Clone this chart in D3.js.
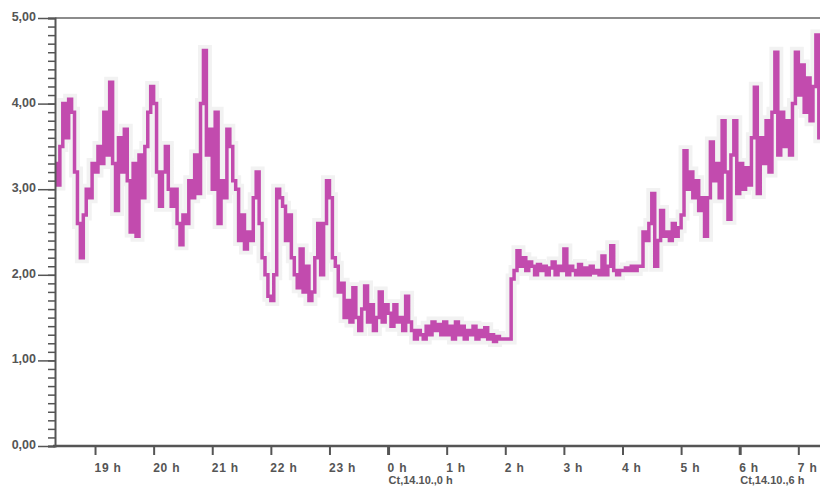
<!DOCTYPE html>
<html>
  <head>
    <title>Průběh měření</title>
    <script src="https://d3js.org/d3.v7.min.js"></script>
    <style>
      body { margin: 0; background: #fff; }
      svg text { font-family: "Liberation Sans", Arial, sans-serif; font-weight: bold; fill: #555; }
    </style>
  </head>
  <body>
    <div id="chart"></div>
    <script>
      // sampling of the logger: first sample at 18:18, then every 3 minutes (hours)
      var startHour = 18.3;
      var stepHours = 0.05;

      var values = [
        3.3, 3.05, 3.5, 4.0, 3.6, 4.05, 3.9, 3.2, 2.6, 2.2, 2.7, 3.0, 2.9, 3.3,
        3.2, 3.5, 3.3, 3.9, 3.4, 4.25, 3.3, 2.75, 3.6, 3.2, 3.7, 3.1, 2.5, 3.3, 2.45, 3.4, 2.9, 3.5, 3.9, 4.2,
        4.0, 3.2, 2.8, 3.2, 3.5, 3.0, 2.8, 3.0, 2.6, 2.35, 2.7, 2.6, 3.1, 2.9, 3.4, 2.95, 4.0, 4.62, 3.4, 3.7,
        3.0, 3.9, 2.6, 3.1, 2.9, 3.7, 3.5, 3.1, 3.0, 2.4, 2.7, 2.3, 2.5, 2.4, 2.9, 3.2, 2.6, 2.2, 2.0, 1.75,
        1.7, 2.0, 3.0, 2.9, 2.8, 2.4, 2.7, 2.2, 2.0, 1.85, 2.3, 1.8, 2.1, 1.7, 1.8, 2.2, 2.6, 2.0, 2.6, 3.1,
        2.9, 2.2, 2.1, 1.8, 1.9, 1.5, 1.7, 1.45, 1.85, 1.5, 1.35, 1.6, 1.87, 1.45, 1.65, 1.35, 1.5, 1.8, 1.45, 1.65,
        1.55, 1.4, 1.65, 1.45, 1.5, 1.35, 1.75, 1.45, 1.35, 1.25, 1.35, 1.3, 1.25, 1.4, 1.3, 1.45, 1.35, 1.42, 1.3, 1.45,
        1.3, 1.4, 1.25, 1.45, 1.3, 1.4, 1.25, 1.35, 1.3, 1.4, 1.25, 1.35, 1.28, 1.38, 1.25, 1.3, 1.22, 1.28, 1.25, 1.25,
        1.25, 1.25, 1.95, 2.05, 2.28, 2.1, 2.2, 2.05, 2.15, 2.1, 2.0, 2.12, 2.05, 2.1, 2.0, 2.08, 2.15, 2.0, 2.1, 2.05,
        2.3, 2.0, 2.1, 2.05, 2.0, 2.12, 2.0, 2.08, 2.0, 2.1, 2.02, 2.05, 2.0, 2.22, 2.0, 2.1, 2.34, 2.05, 2.0, 2.05,
        2.05, 2.08, 2.05, 2.1, 2.05, 2.1, 2.1, 2.5, 2.4, 2.6, 2.95, 2.1, 2.4, 2.75, 2.45, 2.5, 2.4, 2.6, 2.45, 2.55,
        2.7, 3.45, 3.0, 3.2, 2.9, 3.1, 2.75, 2.9, 2.45, 2.9, 3.55, 3.1, 3.3, 2.9, 3.8, 3.2, 2.65, 3.4, 3.8, 2.95,
        3.3, 3.0, 3.25, 3.05, 3.6, 4.19, 2.95, 3.6, 3.3, 3.8, 3.2, 3.9, 4.6, 3.4, 3.9, 3.5, 3.8, 3.4, 4.0, 4.6,
        4.1, 4.45, 3.9, 4.3, 3.8, 4.2, 4.8, 3.6, 4.0
      ];

      // axis ticks
      var yMajor = [0, 1, 2, 3, 4, 5];
      var hourTicks = [19, 20, 21, 22, 23, 24, 25, 26, 27, 28, 29, 30, 31];
      var dayLabels = { 24: "Ct,14.10.,0 h", 30: "Ct,14.10.,6 h" };

      var data = values.map(function(v, i) {
        return { h: startHour + i * stepHours, v: v };
      });

      var width = 820, height = 491;
      var plotLeft = 55, plotTop = 18, plotBottom = 446;

      var svg = d3.select("#chart")
        .append("svg")
        .attr("width", width)
        .attr("height", height);

      var xScale = d3.scaleLinear()
        .domain([18.317, 31.37])
        .range([plotLeft, width]);

      var yScale = d3.scaleLinear()
        .domain([0, 5])
        .range([plotBottom, plotTop]);

      svg.append("clipPath")
        .attr("id", "plot")
        .append("rect")
        .attr("x", plotLeft + 1)
        .attr("y", plotTop)
        .attr("width", width - plotLeft)
        .attr("height", plotBottom - plotTop);

      var line = d3.line()
        .curve(d3.curveStepAfter)
        .x(function(d) { return xScale(d.h); })
        .y(function(d) { return yScale(d.v); });

      // faint grey halo round the trace
      svg.append("path")
        .datum(data)
        .attr("clip-path", "url(#plot)")
        .attr("d", line)
        .attr("fill", "none")
        .attr("stroke", "#f2f2f2")
        .attr("stroke-width", 11);

      svg.append("path")
        .datum(data)
        .attr("clip-path", "url(#plot)")
        .attr("d", line)
        .attr("fill", "none")
        .attr("stroke", "#c24bae")
        .attr("stroke-width", 3.5);

      // top border
      svg.append("line")
        .attr("x1", plotLeft).attr("x2", width)
        .attr("y1", plotTop).attr("y2", plotTop)
        .attr("stroke", "#666")
        .attr("stroke-width", 1.5);

      // y axis, minor ticks every 0.1
      svg.append("g")
        .attr("transform", "translate(" + plotLeft + ",0)")
        .call(d3.axisLeft(yScale).tickValues(d3.range(0, 5.001, 0.1)).tickSize(7).tickFormat(""))
        .call(function(g) {
          g.select(".domain").attr("stroke", "#555").attr("stroke-width", 2);
          g.selectAll(".tick line").attr("stroke", "#555").attr("stroke-width", 1.5);
        });

      // y axis, labelled ticks
      svg.append("g")
        .attr("transform", "translate(" + plotLeft + ",0)")
        .call(d3.axisLeft(yScale).tickValues(yMajor).tickSize(17).tickPadding(2)
          .tickFormat(function(d) { return d3.format(".2f")(d).replace(".", ","); }))
        .call(function(g) {
          g.select(".domain").remove();
          g.selectAll(".tick line").attr("stroke", "#555").attr("stroke-width", 1.5);
          g.selectAll(".tick text").attr("font-size", 12.5).attr("dy", "0.2em");
        });

      // x axis
      var xAxis = svg.append("g")
        .attr("transform", "translate(0," + plotBottom + ")")
        .call(d3.axisBottom(xScale).tickValues(hourTicks).tickSize(9).tickPadding(8)
          .tickFormat(function(d) { return (d % 24) + " h"; }))
        .call(function(g) {
          g.select(".domain").attr("stroke", "#555").attr("stroke-width", 2.5).attr("d", "M" + (plotLeft - 2) + ",0H" + width);
          g.selectAll(".tick line").attr("stroke", "#555").attr("stroke-width", function(d) { return dayLabels[d] ? 3 : 2; });
          g.selectAll(".tick text").attr("font-size", 12).attr("letter-spacing", 0.8)
            .attr("text-anchor", "start").attr("x", -1);
        });

      xAxis.selectAll(".tick")
        .filter(function(d) { return dayLabels[d]; })
        .append("text")
        .attr("x", 0)
        .attr("y", 38)
        .attr("font-size", 11)
        .attr("text-anchor", "start")
        .text(function(d) { return dayLabels[d]; });
    </script>
  </body>
</html>
